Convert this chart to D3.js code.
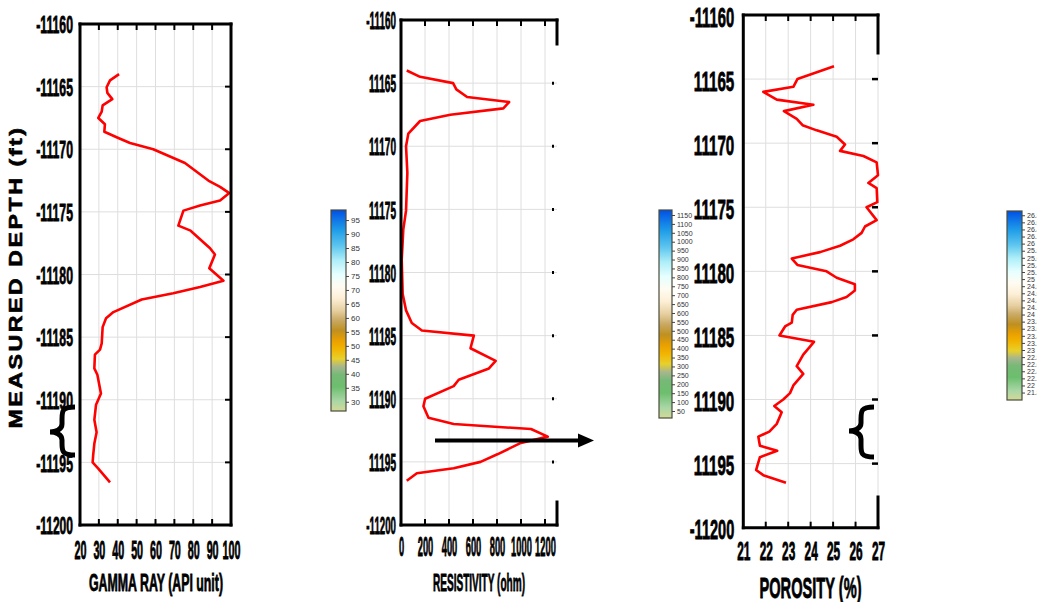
<!DOCTYPE html>
<html>
<head>
<meta charset="utf-8">
<script src="https://cdn.jsdelivr.net/npm/d3@7"></script>
<style>
  body { margin: 0; background: #fff; }
  svg text { font-family: "Liberation Sans", Arial, sans-serif; font-weight: bold; }
  svg .big text, svg text.big { stroke: #000; stroke-width: 0.8; }
  svg .cbar text { font-weight: normal; fill: #333; stroke: none; }
</style>
</head>
<body>
<svg id="chart" width="1037" height="602"></svg>
<script>
// profundidad comun a los tres registros
const depthTicks = [-11160, -11165, -11170, -11175, -11180, -11185, -11190, -11195, -11200];
const grDepthLabels = ["-11160", "-11165", "-11170", "-11175", "-11180", "-11185", "-11190", "-11195", "-11200"];
const midDepthLabels = ["-11160", "11165", "11170", "11175", "11180", "11185", "11190", "11195", "-11200"];

// gamma ray
const grTicks = [20, 30, 40, 50, 60, 70, 80, 90, 100];
const grDepth = [-11164.0, -11164.5, -11165.05, -11165.5, -11166.0, -11166.5, -11167.0, -11167.5, -11168.0, -11168.6,
  -11169.1, -11169.5, -11170.0, -11171.1, -11172.5, -11173.0, -11173.5, -11174.1, -11174.5, -11174.9,
  -11176.1, -11176.5, -11177.9, -11178.4, -11179.5, -11180.5, -11181.0, -11181.5, -11182.0, -11183.0,
  -11183.5, -11184.2, -11185.5, -11186.0, -11186.4, -11187.5, -11188.0, -11189.5, -11190.4, -11191.6,
  -11192.6, -11193.5, -11194.4, -11195.0, -11195.5, -11196.6];
const grValue = [40.7, 35.9, 34.1, 34.5, 37.1, 32.0, 31.5, 29.7, 33.2, 32.9,
  40.3, 46.5, 58.8, 75.6, 88.0, 94.2, 99.1, 94.2, 83.6, 74.8,
  72.1, 78.6, 88.9, 91.5, 88.5, 96.0, 83.6, 69.4, 52.7, 37.7,
  33.8, 32.0, 31.5, 30.6, 27.9, 27.6, 29.2, 31.1, 28.5, 27.6,
  28.8, 27.6, 27.0, 26.7, 29.7, 35.9];

// resistividad
const resTicks = [0, 200, 400, 600, 800, 1000, 1200];
const resDepth = [-11164.0, -11164.5, -11165.0, -11165.5, -11166.1, -11166.5, -11167.0, -11167.5, -11168.0, -11169.0,
  -11170.0, -11172.1, -11175.1, -11176.6, -11179.0, -11181.7, -11183.0, -11184.0, -11184.6, -11185.0,
  -11186.0, -11187.0, -11187.6, -11188.5, -11189.0, -11190.0, -11190.6, -11191.5, -11192.0, -11192.4,
  -11193.0, -11193.5, -11194.4, -11195.0, -11195.5, -11195.9, -11196.5];
const resValue = [48, 159, 434, 461, 551, 901, 853, 411, 159, 61,
  42, 53, 42, 19, 6, 14, 42, 90, 174, 607,
  579, 789, 733, 481, 439, 201, 187, 229, 439, 1083,
  1223, 999, 803, 663, 439, 132, 48];

// porosidad
const porTicks = [21, 22, 23, 24, 25, 26, 27];
const porDepth = [-11164.0, -11164.6, -11165.0, -11165.6, -11166.0, -11166.6, -11167.0, -11167.5, -11168.1, -11168.6,
  -11169.0, -11169.5, -11170.1, -11170.6, -11171.0, -11171.5, -11172.5, -11173.1, -11173.5, -11174.6,
  -11175.0, -11176.0, -11176.5, -11177.0, -11177.5, -11178.0, -11178.5, -11179.0, -11179.5, -11180.0,
  -11180.5, -11181.0, -11181.5, -11182.0, -11182.4, -11183.0, -11183.4, -11184.0, -11184.3, -11185.0,
  -11185.5, -11186.5, -11187.4, -11188.0, -11188.9, -11189.5, -11190.0, -11190.5, -11191.0, -11191.9,
  -11192.5, -11192.9, -11193.6, -11194.0, -11194.5, -11195.5, -11195.9, -11196.5];
const porValue = [25.04, 24.05, 23.41, 23.23, 21.89, 22.49, 24.12, 22.81, 23.38, 23.64,
  24.27, 25.16, 25.53, 25.31, 26.35, 26.94, 27.0, 26.57, 26.94, 26.97,
  26.49, 26.94, 26.42, 26.27, 25.90, 25.31, 24.42, 23.16, 23.41, 24.71,
  25.16, 25.97, 25.97, 25.60, 24.94, 23.38, 23.20, 23.16, 22.86, 22.61,
  24.15, 23.67, 23.38, 23.67, 23.23, 23.08, 22.78, 22.38, 22.71, 22.49,
  22.16, 21.67, 21.74, 22.51, 21.74, 21.57, 21.89, 22.90];

// barras de color
const cbarGrTicks = [30, 35, 40, 45, 50, 55, 60, 65, 70, 75, 80, 85, 90, 95];
const cbarResTicks = [50, 100, 150, 200, 250, 300, 350, 400, 450, 500, 550, 600, 650, 700, 750, 800, 850, 900, 950, 1000, 1050, 1100, 1150];
const cbarPorTicks = [21.8, 22, 22.2, 22.4, 22.6, 22.8, 23, 23.2, 23.4, 23.6, 23.8, 24, 24.2, 24.4, 24.6, 24.8, 25, 25.2, 25.4, 25.6, 25.8, 26, 26.2, 26.4, 26.6, 26.8];
const cmapOffsets = [0, 0.05, 0.12, 0.18, 0.22, 0.26, 0.31, 0.35, 0.40, 0.45, 0.50, 0.56, 0.62, 0.68, 0.75, 0.82, 0.90, 1];
const cmapColors = ["#d2da96", "#a9d6a6", "#6cbf6e", "#76b976", "#a6b68e", "#e8d02c", "#f2b400", "#eaa000", "#bf9020", "#c8a862",
  "#e6cfa0", "#fdefd6", "#fffcf2", "#e6ffff", "#aeeef8", "#5ec6ef", "#1f9de8", "#0050e6"];

const svg = d3.select("#chart");

// letra estrecha: ancho fijo por caracter (el guion cuenta medio)
const fitChars = (sel, perChar) => {
  sel.each(function () {
    const s = this.textContent;
    const units = s.replace(/-/g, "").length + 0.5 * (s.match(/-/g) || []).length;
    d3.select(this).attr("textLength", units * perChar).attr("lengthAdjust", "spacingAndGlyphs");
  });
};

const drawLog = (p) => {
  const x = d3.scaleLinear().domain(p.xDomain).range([p.left, p.right]);
  const y = d3.scaleLinear().domain([depthTicks[0], depthTicks[depthTicks.length - 1]]).range([p.top, p.bottom]);
  const g = svg.append("g");

  // rejilla
  g.append("g").selectAll("line").data(p.xTicks.slice(1)).join("line")
    .attr("x1", d => x(d)).attr("x2", d => x(d))
    .attr("y1", p.top).attr("y2", p.bottom)
    .attr("stroke", "#dedede").attr("stroke-width", 1);
  g.append("g").selectAll("line").data(depthTicks.slice(1, -1)).join("line")
    .attr("x1", p.left).attr("x2", p.right)
    .attr("y1", d => y(d)).attr("y2", d => y(d))
    .attr("stroke", "#dedede").attr("stroke-width", 1);

  // curva
  g.append("path")
    .datum(p.depth.map((d, i) => [p.values[i], d]))
    .attr("d", d3.line().x(d => x(d[0])).y(d => y(d[1])))
    .attr("fill", "none")
    .attr("stroke", "#ff0000")
    .attr("stroke-width", 2.6)
    .attr("stroke-linejoin", "round");

  // marco
  const frame = g.append("g").attr("stroke", "#000").attr("stroke-width", 3).attr("stroke-linecap", "square");
  frame.append("line").attr("x1", p.left).attr("x2", p.left).attr("y1", p.top).attr("y2", p.bottom);
  frame.append("line").attr("x1", p.left).attr("x2", p.right).attr("y1", p.top).attr("y2", p.top);
  frame.append("line").attr("x1", p.left).attr("x2", p.right).attr("y1", p.bottom).attr("y2", p.bottom);
  p.rightSpine.forEach(s => {
    frame.append("line").attr("x1", p.right).attr("x2", p.right).attr("y1", s[0]).attr("y2", s[1]);
  });

  // marcas hacia adentro
  const inner = p.xTicks.filter(d => d > p.xDomain[0] && d < p.xDomain[1]);
  const ticks = g.append("g").attr("stroke", "#000").attr("stroke-width", 2);
  ticks.selectAll(".tt").data(inner).join("line").attr("class", "tt")
    .attr("x1", d => x(d)).attr("x2", d => x(d)).attr("y1", p.top).attr("y2", p.top + 6);
  ticks.selectAll(".tb").data(inner).join("line").attr("class", "tb")
    .attr("x1", d => x(d)).attr("x2", d => x(d)).attr("y1", p.bottom).attr("y2", p.bottom - 6);
  ticks.selectAll(".tr").data(depthTicks.slice(1, -1)).join("line").attr("class", "tr")
    .attr("x1", p.right - p.rightTick).attr("x2", p.right - p.rightTickEnd)
    .attr("y1", d => y(d)).attr("y2", d => y(d))
    .attr("stroke-width", p.rightTickWidth);

  // eje y
  const yAxis = g.append("g")
    .attr("class", "big")
    .attr("transform", `translate(${p.left - p.yGap},0)`)
    .call(d3.axisLeft(y).tickValues(depthTicks).tickSize(0).tickPadding(0).tickFormat((d, i) => p.yLabels[i]));
  yAxis.select(".domain").remove();
  yAxis.attr("font-family", null).attr("font-size", p.yFont);
  yAxis.selectAll("text").attr("fill", "#000").attr("dy", p.yDy);
  fitChars(yAxis.selectAll("text"), p.yChar);

  // eje x
  const xAxis = g.append("g")
    .attr("class", "big")
    .attr("transform", `translate(0,${p.xLabelTop})`)
    .call(d3.axisBottom(x).tickValues(p.xTicks).tickSize(0).tickPadding(0).tickFormat(d3.format("d")));
  xAxis.select(".domain").remove();
  xAxis.attr("font-family", null).attr("font-size", p.xFont);
  xAxis.selectAll("text").attr("fill", "#000");
  fitChars(xAxis.selectAll("text"), p.xChar);

  // titulo
  g.append("text")
    .attr("class", "big")
    .attr("x", p.titleX).attr("y", p.titleY)
    .attr("text-anchor", "middle")
    .attr("font-size", p.titleFont)
    .attr("textLength", p.titleWidth)
    .attr("lengthAdjust", "spacingAndGlyphs")
    .text(p.title);
  return { x, y };
};

drawLog({
  left: 80, right: 231, top: 24, bottom: 525,
  xDomain: [20, 100], xTicks: grTicks, depth: grDepth, values: grValue,
  rightSpine: [[24, 525]], rightTick: 6, rightTickEnd: 0, rightTickWidth: 2,
  yLabels: grDepthLabels, yGap: 7, yFont: 24, yChar: 6.7, yDy: "0.36em",
  xLabelTop: 541, xFont: 25, xChar: 6,
  title: "GAMMA RAY (API unit)", titleX: 156, titleY: 591, titleFont: 24, titleWidth: 134
});

const res = drawLog({
  left: 401, right: 557, top: 20, bottom: 525,
  xDomain: [0, 1300], xTicks: resTicks, depth: resDepth, values: resValue,
  rightSpine: [[20, 44], [502, 525]], rightTick: 5, rightTickEnd: 3, rightTickWidth: 3,
  yLabels: midDepthLabels, yGap: 5, yFont: 24, yChar: 5.4, yDy: "0.36em",
  xLabelTop: 537, xFont: 27, xChar: 5.2,
  title: "RESISTIVITY (ohm)", titleX: 479, titleY: 591, titleFont: 24, titleWidth: 92
});

drawLog({
  left: 743.3, right: 878, top: 15, bottom: 527.7,
  xDomain: [21, 27], xTicks: porTicks, depth: porDepth, values: porValue,
  rightSpine: [[15, 53], [497, 527.7]], rightTick: 6, rightTickEnd: 0, rightTickWidth: 2.5,
  yLabels: midDepthLabels, yGap: 9, yFont: 28, yChar: 8.1, yDy: "0.4em",
  xLabelTop: 542, xFont: 25, xChar: 6.6,
  title: "POROSITY (%)", titleX: 810.5, titleY: 598, titleFont: 29, titleWidth: 102
});

// titulo del eje de profundidad
svg.append("text")
  .attr("transform", "translate(22,277) rotate(-90)")
  .attr("text-anchor", "middle")
  .attr("font-size", 18)
  .attr("letter-spacing", 2)
  .attr("stroke", "#000")
  .attr("stroke-width", 0.6)
  .attr("textLength", 303)
  .attr("lengthAdjust", "spacingAndGlyphs")
  .text("MEASURED DEPTH (ft)");

// llaves
const brace = (xEnd, xMid, xTip, y0, yTip, y1) =>
  `M${xEnd},${y0} C${xMid},${y0} ${xMid},${y0 + 4} ${xMid},${y0 + 12} L${xMid},${yTip - 8} C${xMid},${yTip - 2} ${xTip + 5},${yTip} ${xTip},${yTip}` +
  ` C${xTip + 5},${yTip} ${xMid},${yTip + 2} ${xMid},${yTip + 8} L${xMid},${y1 - 12} C${xMid},${y1 - 4} ${xMid},${y1} ${xEnd},${y1}`;
svg.append("path").attr("d", brace(75, 62, 50, 407, 432, 455))
  .attr("fill", "none").attr("stroke", "#000").attr("stroke-width", 5);
svg.append("path").attr("d", brace(874, 861, 849, 407, 431, 457))
  .attr("fill", "none").attr("stroke", "#000").attr("stroke-width", 5);

// flecha
const arrowY = res.y(-11193.3);
svg.append("line").attr("x1", 435).attr("x2", 580).attr("y1", arrowY).attr("y2", arrowY)
  .attr("stroke", "#000").attr("stroke-width", 4);
svg.append("path").attr("d", `M578,${arrowY - 7} L594,${arrowY} L578,${arrowY + 7} Z`).attr("fill", "#000");

// gradiente de la barra de color
const defs = svg.append("defs");
const grad = defs.append("linearGradient").attr("id", "cmap")
  .attr("x1", 0).attr("y1", 1).attr("x2", 0).attr("y2", 0);
grad.selectAll("stop").data(cmapOffsets).join("stop")
  .attr("offset", d => d)
  .attr("stop-color", (d, i) => cmapColors[i]);

const drawCbar = (c) => {
  const s = d3.scaleLinear().domain(c.domain).range([c.bottom, c.top]);
  const g = svg.append("g").attr("class", "cbar");
  g.append("rect")
    .attr("x", c.left).attr("y", c.top)
    .attr("width", c.width).attr("height", c.bottom - c.top)
    .attr("fill", "url(#cmap)")
    .attr("stroke", "#4b4b3c").attr("stroke-width", 1.2);
  const ax = g.append("g")
    .attr("transform", `translate(${c.left + c.width},0)`)
    .call(d3.axisRight(s).tickValues(c.ticks).tickSize(3).tickPadding(2).tickFormat(d3.format("~g")));
  ax.select(".domain").remove();
  ax.attr("font-family", null).attr("font-size", c.font);
  ax.selectAll("line").attr("stroke", "#444");
  ax.selectAll("text").attr("fill", "#333");
};

drawCbar({ left: 331, width: 15, top: 210, bottom: 411, domain: [26.7, 98.6], ticks: cbarGrTicks, font: 8 });
drawCbar({ left: 659, width: 13, top: 210, bottom: 418, domain: [10.7, 1178], ticks: cbarResTicks, font: 7 });
drawCbar({ left: 1007, width: 15, top: 211, bottom: 400, domain: [21.59, 26.92], ticks: cbarPorTicks, font: 7 });
</script>
</body>
</html>
